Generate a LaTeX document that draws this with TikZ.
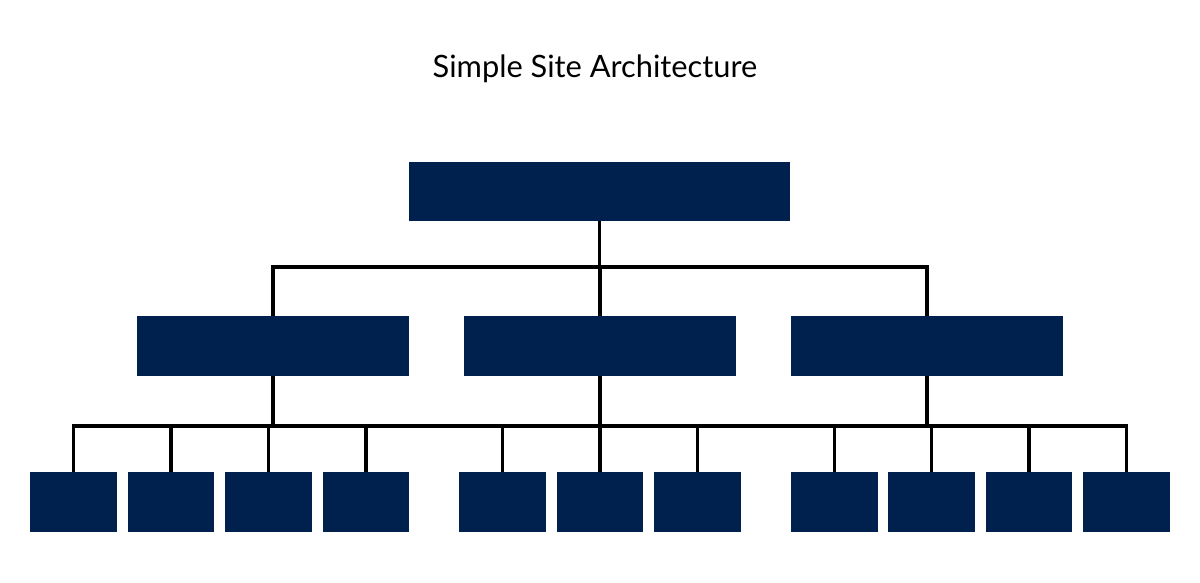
\documentclass[tikz,border=0pt]{standalone}
\usepackage{fontspec}
\setmainfont{Lato}
\usepackage{xcolor}
\usetikzlibrary{positioning,calc}
\definecolor{pagenavy}{HTML}{00214E}
\definecolor{linkblack}{HTML}{000000}
\tikzset{
  pagebox/.style={rectangle, draw=none, fill=pagenavy, inner sep=0pt},
  homebox/.style={pagebox, minimum width=9.525cm, minimum height=1.475cm},
  catbox/.style={pagebox, minimum width=6.8cm, minimum height=1.5cm},
  leafbox/.style={pagebox, minimum width=2.16cm, minimum height=1.5cm},
  link/.style={draw=linkblack, line width=2.6pt},
  heading/.style={font=\fontsize{21.9}{26}\selectfont, anchor=base}
}
\begin{document}
\begin{tikzpicture}
  \useasboundingbox (0,0) rectangle (30,14.55);
  \node[heading] (title) at (14.875,12.6) {Simple Site Architecture};

  \node[homebox] (home) at (14.99,9.7625) {};
  \node[catbox] (cat1) at (6.825,5.9) {};
  \node[catbox] (cat2) at (15.0,5.9) {};
  \node[catbox] (cat3) at (23.175,5.9) {};

  \foreach \i/\x in {1/1.8375, 2/4.275, 3/6.7125, 4/9.15, 5/12.5625, 6/15.0,
                     7/17.4375, 8/20.8625, 9/23.2875, 10/25.725, 11/28.1625}
    \node[leafbox] (leaf\i) at (\x,2.0) {};

  % home to categories
  \coordinate (bus1) at (home.south |- 0,7.875);
  \draw[link] (home.south) -- (bus1);
  \draw[link] (cat1.north) |- (bus1) -| (cat3.north);
  \draw[link] (cat2.north) -- (cat2.north |- bus1);

  % categories to pages
  \coordinate (bus2) at (15.0,3.9);
  \draw[link] (leaf1.north) |- (bus2) -| (leaf11.north);
  \foreach \i in {2,...,10}
    \draw[link] (leaf\i.north) -- (leaf\i.north |- bus2);
  \foreach \c in {1,2,3}
    \draw[link] (cat\c.south) -- (cat\c.south |- bus2);
\end{tikzpicture}
\end{document}
